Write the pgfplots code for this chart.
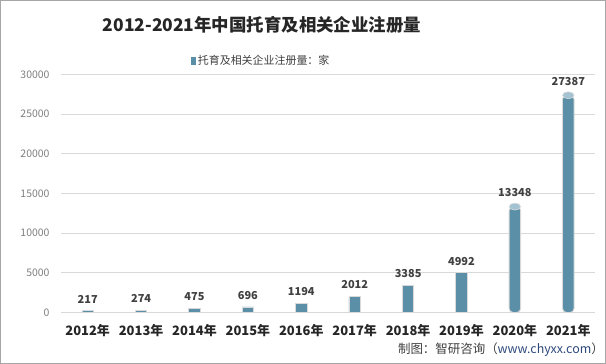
\documentclass[border=0pt]{standalone}
\usepackage{fontspec}
\setmainfont{Noto Sans CJK SC}
\usepackage{pgfplots}
\pgfplotsset{compat=1.18}
\definecolor{barcol}{HTML}{5B8FA7}
\definecolor{topcol}{HTML}{A3C3D2}
\definecolor{gridcol}{HTML}{D9D9D9}
\definecolor{txt}{HTML}{404040}
\definecolor{titlecol}{HTML}{262626}
\definecolor{tickcol}{HTML}{7F7F7F}
\definecolor{urlcol}{HTML}{2E4A7D}
\begin{document}
\begin{tikzpicture}
\useasboundingbox (-61bp,-51.5bp) rectangle (545bp,312.5bp);
\fill[white] (-61bp,-51.5bp) rectangle (545bp,312.5bp);
\draw[gray!70, line width=1bp] (-60.5bp,-51bp) rectangle (544.5bp,312bp);
\begin{axis}[
  at={(0,0)}, anchor=south west,
  scale only axis, width=534bp, height=238bp,
  xmin=-0.5, xmax=9.5, ymin=0, ymax=30000,
  axis x line*=bottom, axis y line*=left,
  y axis line style={draw=none},
  x axis line style={gridcol, line width=1bp},
  ytick={0,5000,...,30000},
  ymajorgrids, grid style={gridcol, line width=0.75bp},
  major tick length=0pt, tick style={draw=none},
  xtick={0,...,9},
  xticklabels={2012年,2013年,2014年,2015年,2016年,2017年,2018年,2019年,2020年,2021年},
  scaled y ticks=false,
  /pgf/number format/1000 sep={},
  /pgf/number format/assume math mode=true,
  yticklabel style={font=\fontsize{10.5}{12}\selectfont, text=tickcol, xshift=-8bp},
  xticklabel style={font=\bfseries\fontsize{13}{15}\selectfont, text=titlecol, yshift=-8bp},
  legend style={draw=none, fill=none, at={(0.375,1.057)}, anchor=center,
    font=\fontsize{11}{13}\selectfont, text=txt},
  clip=false,
]
\addplot[ybar, bar width=11.5bp, bar shift=0pt, fill=barcol, draw=gridcol, line width=0.8bp,
  nodes near coords,
  every node near coord/.append style={font=\bfseries\fontsize{11}{13}\selectfont, text=txt, yshift=4bp},
  legend image code/.code={\fill[barcol] (0bp,-3.5bp) rectangle (4bp,3.5bp);}]
  coordinates {(0,217) (1,274) (2,475) (3,696) (4,1194) (5,2012) (6,3385) (7,4992)};
\addlegendentry{托育及相关企业注册量：家}
\addplot[ybar, bar width=11.5bp, bar shift=0pt, fill=barcol, draw=gridcol, line width=0.8bp,
  rounded corners=4bp, forget plot,
  nodes near coords,
  every node near coord/.append style={font=\bfseries\fontsize{11}{13}\selectfont, text=txt, yshift=6bp}]
  coordinates {(8,13348) (9,27387)};
\addplot[only marks, mark=*, mark size=5.75bp, forget plot,
  mark options={fill=topcol, draw=gridcol, line width=0.6bp, yscale=0.6}]
  coordinates {(8,13348) (9,27387)};
\end{axis}
\node[font=\bfseries\fontsize{17.5}{21}\selectfont, text=titlecol] at (201bp,287.5bp) {2012-2021年中国托育及相关企业注册量};
\node[anchor=east, inner sep=0pt, font=\fontsize{12.5}{15}\selectfont, text=txt] at (543bp,-37.5bp) {制图：智研咨询（\textcolor{urlcol}{www.chyxx.com}）};
\end{tikzpicture}
\end{document}
